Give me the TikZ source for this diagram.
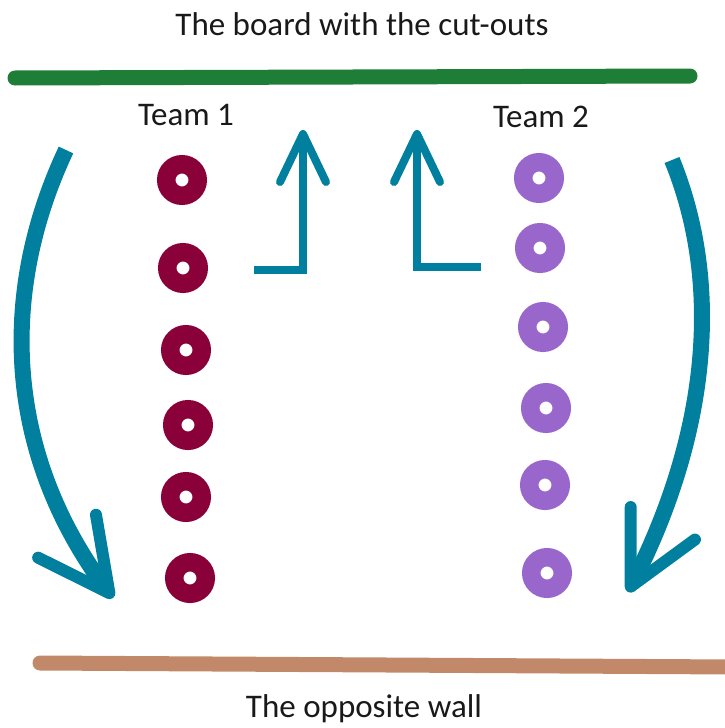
\documentclass[tikz,border=0pt]{standalone}
\usepackage{fontspec}
\setmainfont{Carlito}
\usetikzlibrary{arrows.meta}
\definecolor{boardgreen}{RGB}{30,125,55}
\definecolor{wallbrown}{RGB}{193,136,106}
\definecolor{arrowteal}{RGB}{0,128,158}
\definecolor{teamone}{RGB}{138,0,56}
\definecolor{teamtwo}{RGB}{153,102,204}
\begin{document}
\begin{tikzpicture}[x=1pt,y=-1pt,
  caption/.style={font=\fontsize{33}{40}\selectfont,text=black!90,anchor=base,inner sep=0},
  ring/.style={circle,inner sep=0,minimum size=31.5pt,line width=18.5pt,fill=white},
  wall/.style={line width=15pt,line cap=round},
  bigarrow/.style={draw=arrowteal,line width=16pt,-{Straight Barb[length=71pt,width=72pt,line width=12pt,round]}},
  smallarrow/.style={draw=arrowteal,line width=8pt,-{Straight Barb[length=48pt,width=46pt,round]}}]
\useasboundingbox (0,0) rectangle (724,728);

\node[caption] (board) at (362,35) {The board with the cut-outs};
\node[caption] (team1) at (186,125) {Team 1};
\node[caption] (team2) at (541,127) {Team 2};
\node[caption] (wall) at (364,717) {The opposite wall};

\coordinate (gl) at (15,78);
\coordinate (gr) at (690,76);
\draw[wall,draw=boardgreen] (gl) -- (gr);
\coordinate (bl) at (40,663);
\coordinate (br) at (735,667);
\draw[wall,draw=wallbrown] (bl) -- (br);

\foreach \x/\y [count=\i] in {182/180,183/268,186/350,188/425,186/497,190/578}{
    \node[ring,draw=teamone] (one\i) at (\x,\y) {};
}
\foreach \x/\y [count=\i] in {539/178,540/248,543/327,546/408,545/485,547/573}{
    \node[ring,draw=teamtwo] (two\i) at (\x,\y) {};
}

\coordinate (ls) at (66,150);
\coordinate (le) at (113,598);
\draw[bigarrow] (ls) .. controls (0,290) and (3,450) .. (le);
\coordinate (rs) at (672,160);
\coordinate (re) at (628,592);
\draw[bigarrow] (rs) .. controls (725,290) and (705,440) .. (re);

\coordinate (la) at (254,270);
\coordinate (lt) at (303,130);
\draw[smallarrow] (la) -| (lt);
\coordinate (ra) at (481,267);
\coordinate (rt) at (417,130);
\draw[smallarrow] (ra) -| (rt);
\end{tikzpicture}
\end{document}
